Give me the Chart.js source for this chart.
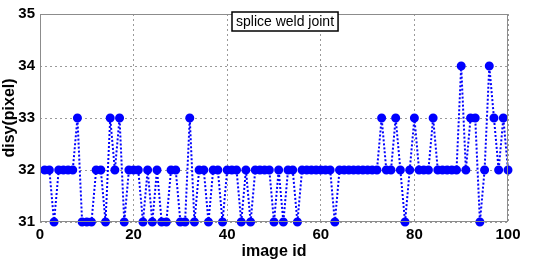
<!DOCTYPE html>
<html>
<head>
<meta charset="utf-8">
<script src="https://cdn.jsdelivr.net/npm/chart.js@4"></script>
<style>
  html, body { margin: 0; padding: 0; background: #fff; }
  #wrap { width: 550px; height: 261px; }
</style>
</head>
<body>
<div id="wrap"><canvas id="weldChart" width="550" height="261"></canvas></div>
<script>
// image ids 1..100 and the measured y displacement (pixel)
const imageIds = Array.from({ length: 100 }, (_, i) => i + 1);
const disy = [
  32, 32, 31, 32, 32, 32, 32, 33, 31, 31,
  31, 32, 32, 31, 33, 32, 33, 31, 32, 32,
  32, 31, 32, 31, 32, 31, 31, 32, 32, 31,
  31, 33, 31, 32, 32, 31, 32, 32, 31, 32,
  32, 32, 31, 32, 31, 32, 32, 32, 32, 31,
  32, 31, 32, 32, 31, 32, 32, 32, 32, 32,
  32, 32, 31, 32, 32, 32, 32, 32, 32, 32,
  32, 32, 33, 32, 32, 33, 32, 31, 32, 33,
  32, 32, 32, 33, 32, 32, 32, 32, 32, 34,
  32, 33, 33, 31, 32, 34, 33, 32, 33, 32
];
const xTicks = [0, 20, 40, 60, 80, 100];
const yTicks = [31, 32, 33, 34, 35];
const annotationText = 'splice weld joint';

const points = imageIds.map((id, i) => ({ x: id, y: disy[i] }));

// box around the plot + the text label in the top middle
const framePlugin = {
  id: 'frame',
  afterDraw(chart) {
    const { ctx, chartArea: a } = chart;
    ctx.save();
    ctx.strokeStyle = '#8c8c8c';
    ctx.lineWidth = 1;
    ctx.setLineDash([]);
    ctx.strokeRect(a.left + 0.5, a.top + 0.5, a.right - a.left - 1, a.bottom - a.top - 1);

    ctx.font = '14px "Liberation Sans", Arial, sans-serif';
    const w = ctx.measureText(annotationText).width;
    const bx = 232, by = 12, bw = w + 8, bh = 19;
    ctx.fillStyle = '#fff';
    ctx.fillRect(bx, by, bw, bh);
    ctx.strokeStyle = '#000';
    ctx.lineWidth = 1.5;
    ctx.strokeRect(bx, by, bw, bh);
    ctx.fillStyle = '#000';
    ctx.textBaseline = 'middle';
    ctx.fillText(annotationText, bx + 4, by + bh / 2 + 1);
    ctx.restore();
  }
};

const gridStyle = {
  color: '#9a9a9a',
  lineWidth: 1,
  drawTicks: false
};

new Chart(document.getElementById('weldChart').getContext('2d'), {
  type: 'line',
  data: {
    datasets: [{
      data: points,
      borderColor: '#0000ff',
      backgroundColor: '#0000ff',
      borderWidth: 2,
      borderDash: [2, 2],
      pointStyle: 'circle',
      pointRadius: 3.5,
      pointHoverRadius: 3.5,
      fill: false,
      tension: 0,
      clip: false
    }]
  },
  options: {
    responsive: false,
    animation: false,
    events: [],
    layout: { padding: { top: 10, right: 42, left: 0, bottom: 0 } },
    plugins: { legend: { display: false }, tooltip: { enabled: false } },
    scales: {
      x: {
        type: 'linear',
        min: 0,
        max: 100,
        afterBuildTicks: s => { s.ticks = xTicks.map(v => ({ value: v })); },
        afterFit: s => { s.height = 39; },
        grid: gridStyle,
        border: { display: false, dash: [2, 3] },
        ticks: {
          color: '#000',
          padding: 4,
          maxRotation: 0,
          font: { family: '"Liberation Sans", Arial, sans-serif', size: 15, weight: 'bold' }
        },
        title: {
          display: true,
          text: 'image id',
          color: '#000',
          padding: { top: -2, bottom: 0 },
          font: { family: '"Liberation Sans", Arial, sans-serif', size: 16, weight: 'bold' }
        }
      },
      y: {
        type: 'linear',
        min: 31,
        max: 35,
        afterBuildTicks: s => { s.ticks = yTicks.map(v => ({ value: v })); },
        afterFit: s => { s.width = 40; },
        grid: gridStyle,
        border: { display: false, dash: [2, 3] },
        ticks: {
          color: '#000',
          padding: 5,
          font: { family: '"Liberation Sans", Arial, sans-serif', size: 15, weight: 'bold' }
        },
        title: {
          display: true,
          text: 'disy(pixel)',
          color: '#000',
          padding: { top: 0, bottom: 0 },
          font: { family: '"Liberation Sans", Arial, sans-serif', size: 16, weight: 'bold' }
        }
      }
    }
  },
  plugins: [framePlugin]
});
</script>
</body>
</html>
